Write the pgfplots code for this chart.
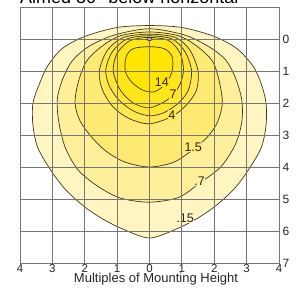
\documentclass[border=0pt]{standalone}
\usepackage{pgfplots}
\pgfplotsset{compat=1.18}
\usepackage{fontspec}
\setmainfont{Liberation Sans}
\definecolor{yA}{RGB}{255,245,192}
\definecolor{yB}{RGB}{254,239,155}
\definecolor{yC}{RGB}{254,234,115}
\definecolor{yD}{RGB}{255,231,80}
\definecolor{yE}{RGB}{255,230,50}
\definecolor{yF}{RGB}{255,229,25}
\definecolor{yG}{RGB}{255,229,0}
\definecolor{cline}{RGB}{62,56,30}
\definecolor{gridgray}{RGB}{118,118,118}
\begin{document}
\begin{tikzpicture}
\useasboundingbox (0pt,0pt) rectangle (296pt,291pt);
\node[anchor=base west, font=\fontsize{18}{18}\selectfont, inner sep=0pt] at (20pt,287pt) {Aimed 30° below horizontal};
\begin{axis}[
  at={(20pt,28pt)}, anchor=south west,
  scale only axis, width=259pt, height=256pt,
  xmin=-4, xmax=4, ymin=-1, ymax=7, y dir=reverse,
  xtick={-4,...,4}, xticklabels={4,3,2,1,0,1,2,3,4},
  ytick={0,...,7}, yticklabel pos=right,
  grid=major,
  major grid style={draw=gridgray, line width=0.8pt},
  axis line style={draw=gridgray, line width=0.8pt},
  major tick length=0pt,
  axis on top,
  tick label style={font=\fontsize{12}{12}\selectfont, text=black!85},
  xticklabel style={font=\fontsize{11.5}{11.5}\selectfont, inner sep=1pt, yshift=-0.5pt},
  /pgf/number format/assume math mode=true,
  clip=false,
]
% .15
\addplot[smooth cycle, fill=yA, draw=cline, line width=0.7pt] coordinates {
(0,-0.42) (1,-0.36) (2,-0.08) (2.7,0.3) (3.2,0.85) (3.45,1.4) (3.6,2.0) (3.6,2.7) (3.45,3.4) (3.05,4.1) (2.6,4.7) (2.0,5.25) (1.4,5.65) (0.8,5.95) (0,6.22) (-0.8,5.95) (-1.4,5.65) (-2.0,5.25) (-2.6,4.7) (-3.05,4.1) (-3.45,3.4) (-3.6,2.7) (-3.6,2.0) (-3.4,1.4) (-3.15,0.85) (-2.7,0.3) (-2,-0.08) (-1,-0.36)};
% .7
\addplot[smooth cycle, fill=yB, draw=cline, line width=0.7pt] coordinates {
(0,-0.32) (1.1,-0.12) (1.85,0.25) (2.35,0.65) (2.65,1.2) (2.85,1.9) (2.85,2.6) (2.65,3.3) (2.2,4.0) (1.55,4.5) (0.9,4.95) (0,5.1) (-0.9,4.97) (-1.6,4.6) (-2.2,4.1) (-2.6,3.4) (-2.8,2.6) (-2.85,1.9) (-2.7,1.3) (-2.4,0.7) (-1.9,0.25) (-1.1,-0.12)};
% 1.5
\addplot[smooth cycle, fill=yC, draw=cline, line width=0.7pt] coordinates {
(0,-0.22) (0.9,-0.1) (1.5,0.25) (1.95,0.7) (2.15,1.3) (2.25,2.0) (2.1,2.6) (1.8,3.05) (1.35,3.45) (0.75,3.85) (0,4.0) (-0.75,3.85) (-1.35,3.5) (-1.8,3.05) (-2.15,2.55) (-2.3,2.0) (-2.2,1.35) (-1.95,0.7) (-1.5,0.25) (-0.9,-0.1)};
% 4
\addplot[smooth cycle, fill=yD, draw=cline, line width=0.7pt] coordinates {
(0,-0.15) (0.8,-0.05) (1.25,0.35) (1.5,1.0) (1.45,1.6) (1.15,2.05) (0.7,2.42) (0,2.65) (-0.6,2.5) (-1.1,2.15) (-1.45,1.6) (-1.55,1.0) (-1.3,0.35) (-0.8,-0.05)};
% unlabeled
\addplot[smooth cycle, fill=yE, draw=cline, line width=0.7pt] coordinates {
(0,-0.1) (0.7,0.0) (1.1,0.4) (1.3,1.0) (1.2,1.6) (0.9,2.0) (0.45,2.3) (0,2.4) (-0.5,2.25) (-0.95,1.9) (-1.25,1.45) (-1.35,0.95) (-1.15,0.4) (-0.7,0.0)};
% 7
\addplot[smooth cycle, fill=yF, draw=cline, line width=0.7pt] coordinates {
(0,-0.05) (0.6,0.05) (0.95,0.45) (1.05,1.0) (0.9,1.5) (0.55,1.9) (0,2.15) (-0.5,2.0) (-0.9,1.6) (-1.12,1.0) (-1.0,0.45) (-0.6,0.05)};
% 14
\addplot[smooth cycle, fill=yG, draw=cline, line width=0.7pt] coordinates {
(0,0.24) (0.45,0.3) (0.7,0.55) (0.7,1.0) (0.5,1.4) (0.15,1.65) (-0.2,1.6) (-0.55,1.35) (-0.75,1.0) (-0.72,0.55) (-0.5,0.3)};
% luminaire mark
\addplot[only marks, mark=*, mark size=1.6pt, mark options={fill=black!30, draw=none, xscale=1.7}] coordinates {(0,0)};
% labels
\tikzset{lbl/.style={font=\fontsize{12.5}{12.5}\selectfont, text=black!85, inner sep=0.6pt}}
\node[lbl, fill=yG] at (axis cs:0.38,1.35) {14};
\node[lbl, fill=yF] at (axis cs:0.73,1.72) {7};
\node[lbl, fill=yD] at (axis cs:0.69,2.37) {4};
\node[lbl, fill=yC] at (axis cs:1.35,3.37) {1.5};
\node[lbl, fill=yB] at (axis cs:1.55,4.45) {.7};
\node[lbl, fill=yA] at (axis cs:1.1,5.6) {.15};
\end{axis}
\node[anchor=base, font=\fontsize{13}{13}\selectfont, text=black!85] at (156pt,9pt) {Multiples of Mounting Height};
\end{tikzpicture}
\end{document}
